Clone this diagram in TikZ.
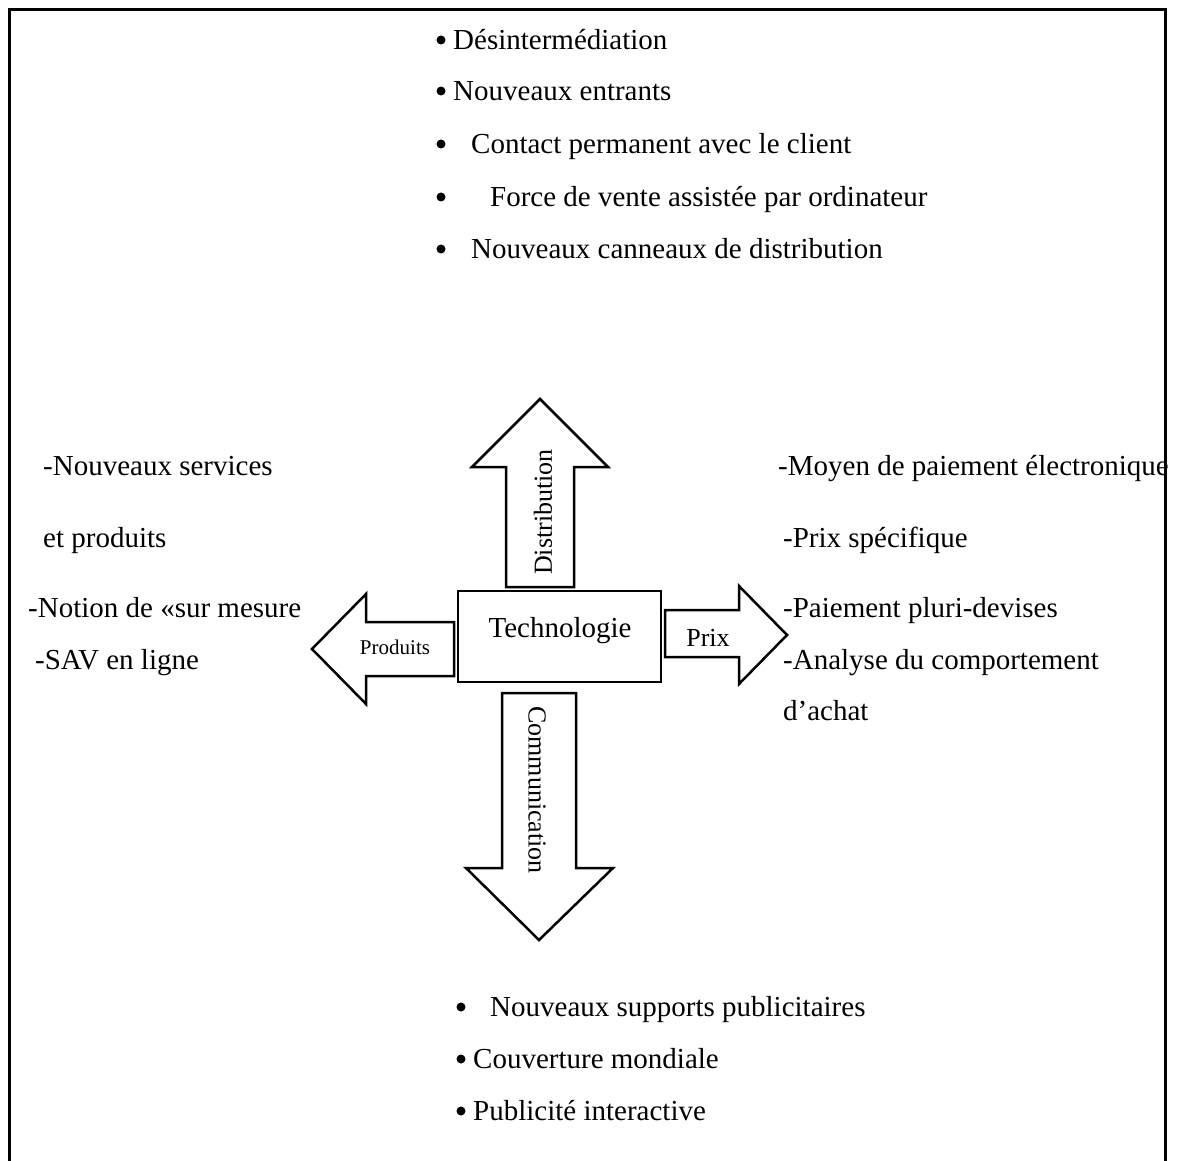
\documentclass[tikz,border=0pt]{standalone}
\usepackage{fontspec}
\setmainfont{Liberation Serif}
\begin{document}
\begin{tikzpicture}[x=1pt,y=-1pt,
  txt/.style={anchor=mid west, inner sep=0pt, font=\fontsize{29}{34}\selectfont},
  bul/.style={circle, fill=black, inner sep=0pt, minimum size=9pt},
  shp/.style={draw=black, line width=2.5pt, line join=miter, fill=white},
  albl/.style={inner sep=0pt, font=\fontsize{26}{30}\selectfont}]
\useasboundingbox (0,0) rectangle (1178,1161);
% frame
\draw[line width=3pt] (9,1161) -- (9,10) -- (1165,10) -- (1165,1161);

% top list
\node[bul] (b1) at (441,40) {};
\node[txt] (t1) at (453,47) {Désintermédiation};
\node[bul] (b2) at (441,91) {};
\node[txt] (t2) at (453,98) {Nouveaux entrants};
\node[bul] (b3) at (441,144) {};
\node[txt] (t3) at (471,151) {Contact permanent avec le client};
\node[bul] (b4) at (441,197) {};
\node[txt] (t4) at (490,204) {Force de vente assistée par ordinateur};
\node[bul] (b5) at (441,249) {};
\node[txt] (t5) at (471,256) {Nouveaux canneaux de distribution};

% left texts
\node[txt] (l1) at (43,473) {-Nouveaux services};
\node[txt] (l2) at (43,545) {et produits};
\node[txt] (l3) at (28,615) {-Notion de «sur mesure};
\node[txt] (l4) at (35,667) {-SAV en ligne};

% right texts
\node[txt] (r1) at (778,473) {-Moyen de paiement électronique};
\node[txt] (r2) at (783,545) {-Prix spécifique};
\node[txt] (r3) at (783,615) {-Paiement pluri-devises};
\node[txt] (r4) at (783,667) {-Analyse du comportement};
\node[txt] (r5) at (783,718) {d’achat};

% bottom list
\node[bul] (c1) at (461,1007) {};
\node[txt] (u1) at (490,1014) {Nouveaux supports publicitaires};
\node[bul] (c2) at (461,1059) {};
\node[txt] (u2) at (473,1066) {Couverture mondiale};
\node[bul] (c3) at (461,1111) {};
\node[txt] (u3) at (473,1118) {Publicité interactive};

% Distribution arrow (up)
\draw[shp] (506,587) -- (506,467) -- (472,467) -- (540,399) -- (608,467) -- (574,467) -- (574,587) -- cycle;
\node[albl, rotate=90] (dist) at (543,512) {Distribution};

% Communication arrow (down)
\draw[shp] (502,693) -- (502,868) -- (466,868) -- (539,940) -- (613,868) -- (576,868) -- (576,693) -- cycle;
\node[albl, rotate=-90] (comm) at (537,790) {Communication};

% Prix arrow (right)
\draw[shp] (665,610) -- (739,610) -- (739,586) -- (787,635) -- (739,684) -- (739,657) -- (665,657) -- cycle;
\node[albl] (prix) at (708,638) {Prix};

% Produits arrow (left)
\draw[shp] (454,622) -- (366,622) -- (366,594) -- (312,649) -- (366,704) -- (366,676) -- (454,676) -- cycle;
\node[inner sep=0pt, font=\fontsize{21}{25}\selectfont] (prod) at (395,647) {Produits};

% central box
\node[shp, minimum width=203pt, minimum height=91pt, inner sep=0pt] (tech) at (559.5,636.5) {};
\node[inner sep=0pt, anchor=mid, font=\fontsize{29}{34}\selectfont] (techlbl) at (560,635) {Technologie};
\end{tikzpicture}
\end{document}
